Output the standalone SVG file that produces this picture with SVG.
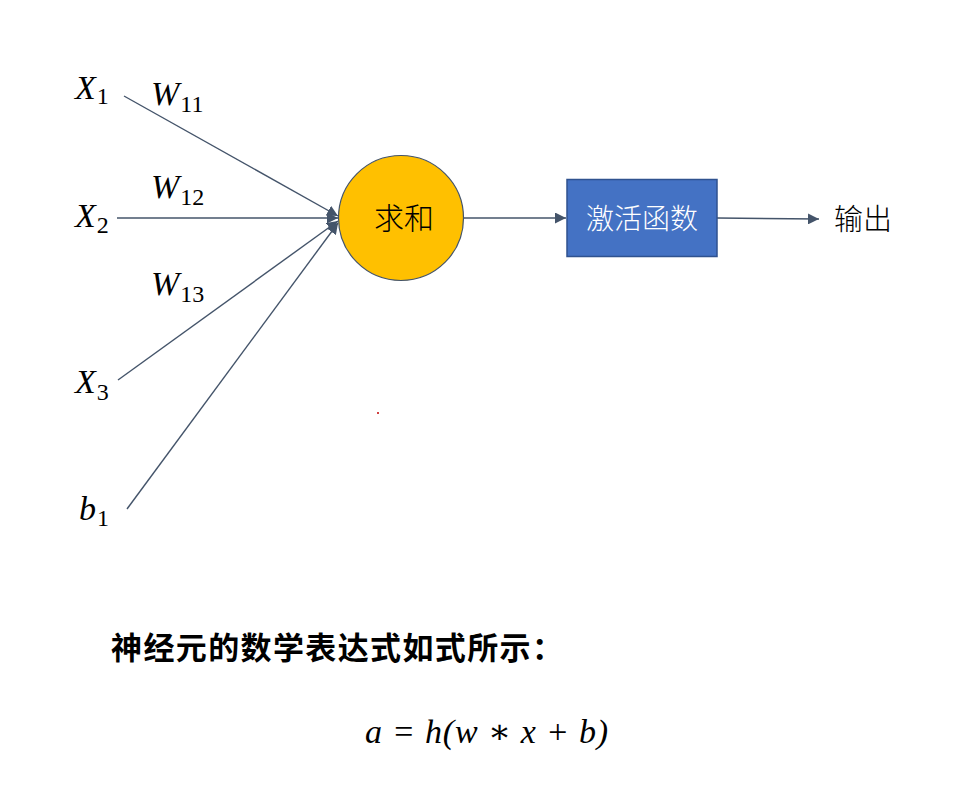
<svg xmlns="http://www.w3.org/2000/svg" width="957" height="790" viewBox="0 0 957 790">
<style>
.m{font-family:"Liberation Serif","DejaVu Serif",serif;font-style:italic;font-size:34px;fill:#000}
.s{font-style:normal;font-size:24px}
.c{font-family:"Noto Sans CJK SC","Noto Sans",sans-serif;font-weight:300}
.ln{stroke:#44546A;stroke-width:1.4;fill:none;marker-end:url(#ah)}
</style>
<defs>
<marker id="ah" viewBox="0 0 10 10" refX="10" refY="5" markerWidth="11" markerHeight="11" markerUnits="userSpaceOnUse" orient="auto">
<path d="M0,0 L10,5 L0,10 z" fill="#44546A"/>
</marker>
</defs>
<rect width="957" height="790" fill="#fff"/>
<g id="connectors">
<line class="ln" x1="124" y1="96" x2="338" y2="216"/>
<line class="ln" x1="117" y1="218" x2="338" y2="218"/>
<line class="ln" x1="118" y1="380" x2="338" y2="221"/>
<line class="ln" x1="127" y1="509" x2="338" y2="223"/>
<line class="ln" x1="464" y1="218" x2="566" y2="218"/>
<line class="ln" x1="717" y1="218" x2="819" y2="219"/>
</g>
<g id="x1"><text class="m" x="75" y="99">X<tspan class="s" dx="1" dy="5">1</tspan></text></g>
<g id="x2"><text class="m" x="75" y="227">X<tspan class="s" dx="1" dy="6">2</tspan></text></g>
<g id="x3"><text class="m" x="75" y="393">X<tspan class="s" dx="1" dy="7">3</tspan></text></g>
<g id="b1"><text class="m" x="79" y="520">b<tspan class="s" dx="1" dy="6">1</tspan></text></g>
<g id="w11"><text class="m" x="151" y="105">W<tspan class="s" dx="1" dy="7">11</tspan></text></g>
<g id="w12"><text class="m" x="151" y="198">W<tspan class="s" dx="1" dy="7">12</tspan></text></g>
<g id="w13"><text class="m" x="151" y="295">W<tspan class="s" dx="1" dy="7">13</tspan></text></g>
<g id="sum">
<circle cx="401" cy="218" r="62.5" fill="#FFC000" stroke="#44546A" stroke-width="1.2"/>
<text class="c" x="404" y="229" text-anchor="middle" font-size="30">求和</text>
</g>
<g id="activation">
<rect x="567" y="179.5" width="150" height="77" fill="#4472C4" stroke="#2F528F" stroke-width="1.5"/>
<text class="c" x="642" y="229" text-anchor="middle" fill="#fff" font-size="28">激活函数</text>
</g>
<g id="output"><text class="c" x="834" y="230" font-size="29">输出</text></g>
<circle cx="378" cy="413" r="1" fill="#C00000"/>
<text x="111" y="659" style="font-family:'Noto Sans CJK SC','Noto Sans',sans-serif;font-weight:bold;font-size:31px" textLength="452">神经元的数学表达式如式所示：</text>
<text class="m" x="365" y="743" textLength="243" xml:space="preserve">a = h(w ∗ x + b)</text>
</svg>
